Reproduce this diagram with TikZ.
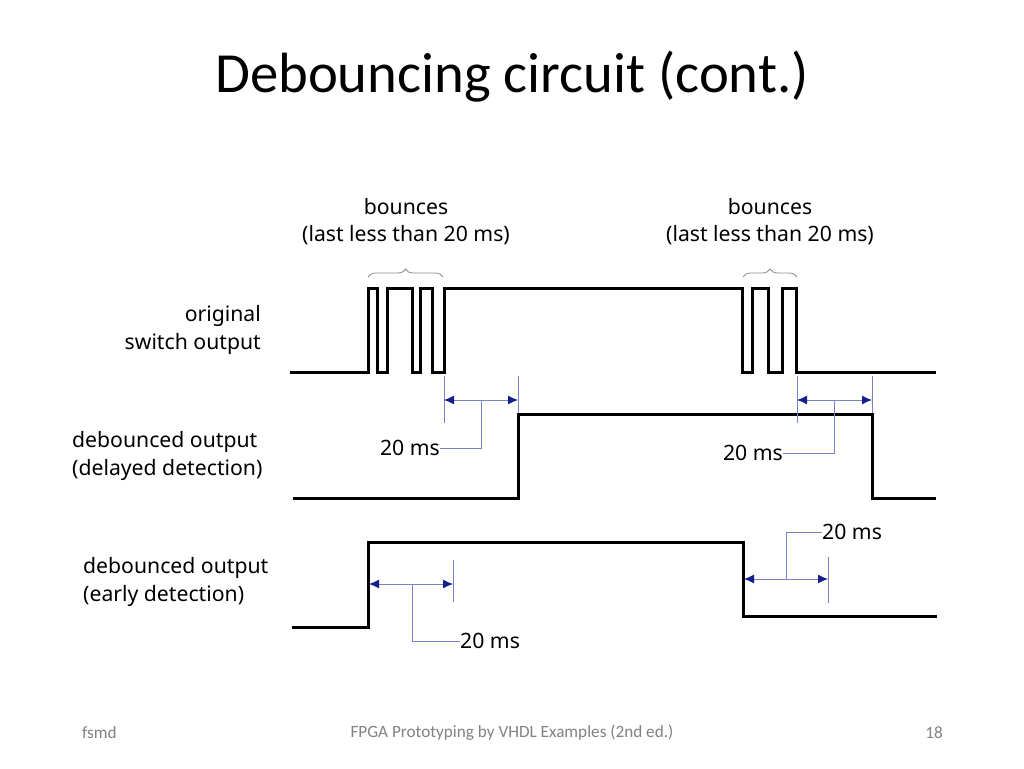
\documentclass[tikz,border=0pt]{standalone}
\usepackage{fontspec}
\setmainfont{Carlito}
\newfontfamily\diagfont{Noto Sans}
\usetikzlibrary{arrows.meta,decorations.pathreplacing}
\definecolor{dimblue}{RGB}{120,130,200}
\definecolor{navyarrow}{RGB}{20,30,140}
\definecolor{footgray}{RGB}{130,130,130}
\definecolor{bracegray}{RGB}{140,140,140}
\begin{document}
\begin{tikzpicture}[x=1pt,y=-1pt,
  wave/.style={line width=3pt,line join=miter,line cap=butt},
  dimline/.style={draw=dimblue,line width=1pt},
  dimarrow/.style={draw=dimblue,line width=1pt,
     {Latex[length=10pt,width=9pt,color=navyarrow]}-{Latex[length=10pt,width=9pt,color=navyarrow]}},
  lbl/.style={font=\diagfont\fontsize{21.2}{24}\selectfont,inner sep=0pt},
  bracestyle/.style={draw=bracegray,line width=0.8pt,decorate,decoration={brace,amplitude=8pt}},
  foot/.style={font=\fontsize{17.2}{20}\selectfont,text=footgray,inner sep=0pt}
]
\useasboundingbox[fill=white] (0,0) rectangle (1024,768);

% title
\node[font=\fontsize{56.7}{66}\selectfont,inner sep=0pt] (title) at (512,77) {Debouncing circuit (cont.)};

% signal labels
\node[lbl,anchor=east] (l1a) at (261,316) {original};
\node[lbl,anchor=east] (l1b) at (261,344) {switch output};
\node[lbl,anchor=west] (l2a) at (72,442) {debounced output};
\node[lbl,anchor=west] (l2b) at (72,470) {(delayed detection)};
\node[lbl,anchor=west] (l3a) at (83,568) {debounced output};
\node[lbl,anchor=west] (l3b) at (83,596) {(early detection)};

% bounce labels
\node[lbl] (b1a) at (406,207) {bounces};
\node[lbl] (b1b) at (406,235) {(last less than 20 ms)};
\node[lbl] (b2a) at (770,207) {bounces};
\node[lbl] (b2b) at (770,235) {(last less than 20 ms)};

% braces
\coordinate (br1s) at (368,277); \coordinate (br1e) at (443,277);
\coordinate (br2s) at (743,277); \coordinate (br2e) at (797,277);
\draw[bracestyle] (br1s) -- (br1e);
\draw[bracestyle] (br2s) -- (br2e);

% waveforms
\draw[wave] (290,372) -- (368,372) -- (368,288) -- (377,288) -- (377,372) -- (387,372)
  -- (387,288) -- (412,288) -- (412,372) -- (420,372) -- (420,288) -- (432,288)
  -- (432,372) -- (444,372) -- (444,288) -- (742,288) -- (742,372) -- (752,372)
  -- (752,288) -- (768,288) -- (768,372) -- (782,372) -- (782,288) -- (796,288)
  -- (796,372) -- (936,372);
\draw[wave] (293,498) -- (518,498) -- (518,414) -- (872,414) -- (872,498) -- (936,498);
\draw[wave] (292,627) -- (368,627) -- (368,542) -- (743,542) -- (743,616) -- (937,616);

% dimension 1 (delayed, rising)
\coordinate (d1a) at (444,376); \coordinate (d1b) at (444,423);
\coordinate (d1c) at (518,376); \coordinate (d1d) at (518,413);
\coordinate (d1l) at (444,400); \coordinate (d1r) at (518,400);
\coordinate (d1m) at (481,400); \coordinate (d1k) at (481,448);
\node[lbl,anchor=east] (t1) at (440,448) {20 ms};
\draw[dimline] (d1a) -- (d1b);
\draw[dimline] (d1c) -- (d1d);
\draw[dimarrow] (d1l) -- (d1r);
\draw[dimline] (d1m) -- (d1k) -- (t1.east);

% dimension 2 (delayed, falling)
\coordinate (d2a) at (797,376); \coordinate (d2b) at (797,423);
\coordinate (d2c) at (872,376); \coordinate (d2d) at (872,413);
\coordinate (d2l) at (797,400); \coordinate (d2r) at (872,400);
\coordinate (d2m) at (834,400); \coordinate (d2k) at (834,453);
\node[lbl,anchor=east] (t2) at (783,453) {20 ms};
\draw[dimline] (d2a) -- (d2b);
\draw[dimline] (d2c) -- (d2d);
\draw[dimarrow] (d2l) -- (d2r);
\draw[dimline] (d2m) -- (d2k) -- (t2.east);

% dimension 3 (early, rising)
\coordinate (d3a) at (453,560); \coordinate (d3b) at (453,602);
\coordinate (d3l) at (369,584); \coordinate (d3r) at (453,584);
\coordinate (d3m) at (412,584); \coordinate (d3k) at (412,641);
\node[lbl,anchor=west] (t3) at (460,641) {20 ms};
\draw[dimline] (d3a) -- (d3b);
\draw[dimarrow] (d3l) -- (d3r);
\draw[dimline] (d3m) -- (d3k) -- (t3.west);

% dimension 4 (early, falling)
\coordinate (d4a) at (828,557); \coordinate (d4b) at (828,603);
\coordinate (d4l) at (744,579); \coordinate (d4r) at (828,579);
\coordinate (d4m) at (786,579); \coordinate (d4k) at (786,532);
\node[lbl,anchor=west] (t4) at (822,532) {20 ms};
\draw[dimline] (d4a) -- (d4b);
\draw[dimarrow] (d4l) -- (d4r);
\draw[dimline] (d4m) -- (d4k) -- (t4.west);

% footer
\node[foot,anchor=west] (f1) at (82,733) {fsmd};
\node[foot] (f2) at (512,733) {FPGA Prototyping by VHDL Examples (2nd ed.)};
\node[foot,anchor=east] (f3) at (943,733) {18};
\end{tikzpicture}
\end{document}
